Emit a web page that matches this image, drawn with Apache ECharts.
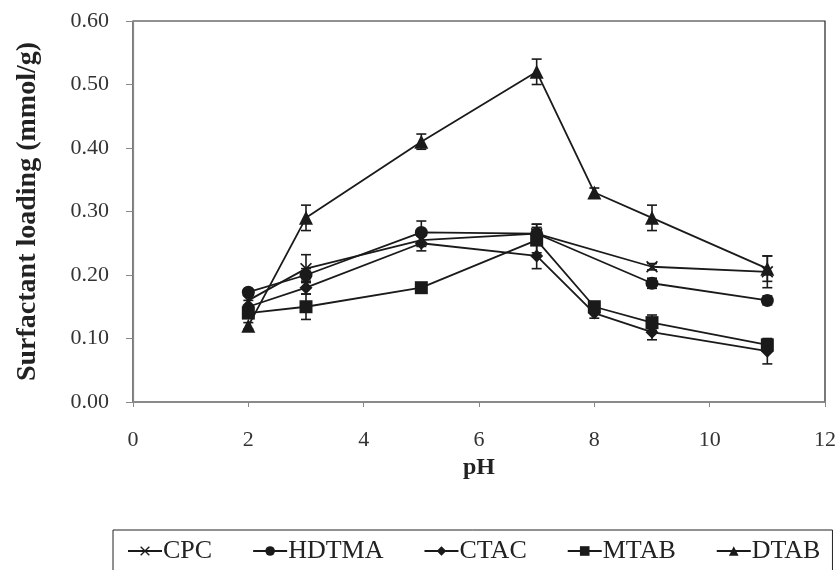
<!DOCTYPE html>
<html>
<head>
<meta charset="utf-8">
<style>
  html, body { margin: 0; padding: 0; background: #fff; }
  #chart { width: 839px; height: 570px; }
</style>
<script src="https://cdn.jsdelivr.net/npm/echarts@6/dist/echarts.min.js"></script>
</head>
<body>
<div id="chart"></div>
<script>
// pH values for each surfactant
var phCPC = [2, 3, 5, 7, 9, 11];
var phHDTMA = [2, 3, 5, 7, 9, 11];
var phCTAC = [2, 3, 5, 7, 8, 9, 11];
var phMTAB = [2, 3, 5, 7, 8, 9, 11];
var phDTAB = [2, 3, 5, 7, 8, 9, 11];

// surfactant loading (mmol/g)
var loadCPC = [0.16, 0.21, 0.255, 0.265, 0.213, 0.205];
var loadHDTMA = [0.173, 0.20, 0.267, 0.265, 0.187, 0.16];
var loadCTAC = [0.15, 0.18, 0.25, 0.23, 0.14, 0.11, 0.08];
var loadMTAB = [0.14, 0.15, 0.18, 0.255, 0.15, 0.125, 0.09];
var loadDTAB = [0.12, 0.29, 0.41, 0.52, 0.33, 0.29, 0.21];

// error bar half-heights
var errCPC = [0.01, 0.022, 0.01, 0.015, 0.005, 0.025];
var errHDTMA = [0.005, 0.01, 0.018, 0.015, 0.008, 0.007];
var errCTAC = [0.01, 0.01, 0.012, 0.02, 0.008, 0.012, 0.02];
var errMTAB = [0.008, 0.02, 0.006, 0.02, 0.008, 0.012, 0.008];
var errDTAB = [0.005, 0.02, 0.012, 0.02, 0.007, 0.02, 0.02];

var yTicks = [0, 0.1, 0.2, 0.3, 0.4, 0.5, 0.6];

var lineColor = "#1a1a1a";
var serif = "'Liberation Serif', 'DejaVu Serif', serif";
var crossPath = "path://M0,1L1,0L5,4L9,0L10,1L6,5L10,9L9,10L5,6L1,10L0,9L4,5Z";

function pairs(xs, ys) {
  return xs.map(function(x, i) { return [x, ys[i]]; });
}
function errPairs(xs, ys, es) {
  return xs.map(function(x, i) { return [x, ys[i] - es[i], ys[i] + es[i]]; });
}

function lineSeries(name, xs, ys, symbol, size) {
  return {
    name: name,
    type: "line",
    data: pairs(xs, ys),
    symbol: symbol,
    symbolSize: size,
    z: 3,
    lineStyle: { color: lineColor, width: 1.8 },
    itemStyle: { color: lineColor, borderColor: lineColor, borderWidth: 0 }
  };
}

function errSeries(name, xs, ys, es) {
  return {
    name: name + " err",
    type: "custom",
    z: 2,
    data: errPairs(xs, ys, es),
    renderItem: function(params, api) {
      var lo = api.coord([api.value(0), api.value(1)]);
      var hi = api.coord([api.value(0), api.value(2)]);
      var cap = 5;
      var st = { stroke: lineColor, lineWidth: 1.6 };
      return {
        type: "group",
        children: [
          { type: "line", shape: { x1: lo[0], y1: lo[1], x2: hi[0], y2: hi[1] }, style: st },
          { type: "line", shape: { x1: lo[0] - cap, y1: lo[1], x2: lo[0] + cap, y2: lo[1] }, style: st },
          { type: "line", shape: { x1: hi[0] - cap, y1: hi[1], x2: hi[0] + cap, y2: hi[1] }, style: st }
        ]
      };
    }
  };
}

var option = {
  backgroundColor: "#fff",
  animation: false,
  grid: {
    left: 133,
    right: 13,
    top: 21,
    bottom: 168,
    show: true,
    borderColor: "#222",
    borderWidth: 1.2
  },
  legend: {
    data: ["CPC", "HDTMA", "CTAC", "MTAB", "DTAB"],
    left: 113,
    top: 530,
    padding: [8, 12, 20, 14],
    itemGap: 40,
    itemWidth: 34,
    itemHeight: 12,
    borderColor: "#222",
    borderWidth: 1,
    textStyle: { fontFamily: serif, fontSize: 26, color: "#222", padding: [0, 0, 0, -4] }
  },
  xAxis: {
    type: "value",
    min: 0,
    max: 12,
    interval: 2,
    name: "pH",
    nameLocation: "middle",
    nameGap: 42,
    nameTextStyle: { fontFamily: serif, fontSize: 24, fontWeight: "bold", color: "#222" },
    axisLine: { lineStyle: { color: "#888", width: 1.5 } },
    axisTick: { show: true, length: 5, lineStyle: { color: "#888" } },
    axisLabel: { fontFamily: serif, fontSize: 22, color: "#333", margin: 27 },
    splitLine: { show: false }
  },
  yAxis: {
    type: "value",
    min: yTicks[0],
    max: yTicks[yTicks.length - 1],
    interval: 0.1,
    name: "Surfactant loading (mmol/g)",
    nameLocation: "middle",
    nameGap: 91,
    nameTextStyle: { fontFamily: serif, fontSize: 28, fontWeight: "bold", color: "#222" },
    axisLine: { show: true, lineStyle: { color: "#888", width: 1.2 } },
    axisTick: { show: true, length: 7, lineStyle: { color: "#888" } },
    axisLabel: {
      fontFamily: serif, fontSize: 22, color: "#333", margin: 24,
      formatter: function(v) { return v.toFixed(2); }
    },
    splitLine: { show: false }
  },
  series: [
    errSeries("CPC", phCPC, loadCPC, errCPC),
    errSeries("HDTMA", phHDTMA, loadHDTMA, errHDTMA),
    errSeries("CTAC", phCTAC, loadCTAC, errCTAC),
    errSeries("MTAB", phMTAB, loadMTAB, errMTAB),
    errSeries("DTAB", phDTAB, loadDTAB, errDTAB),
    lineSeries("CPC", phCPC, loadCPC, crossPath, 12),
    lineSeries("HDTMA", phHDTMA, loadHDTMA, "circle", 13),
    lineSeries("CTAC", phCTAC, loadCTAC, "diamond", 13),
    lineSeries("MTAB", phMTAB, loadMTAB, "rect", 13),
    lineSeries("DTAB", phDTAB, loadDTAB, "triangle", 14)
  ]
};

var myChart = echarts.init(document.getElementById("chart"));
myChart.setOption(option);
window.addEventListener("resize", function() {
  myChart.resize();
});
</script>
</body>
</html>
